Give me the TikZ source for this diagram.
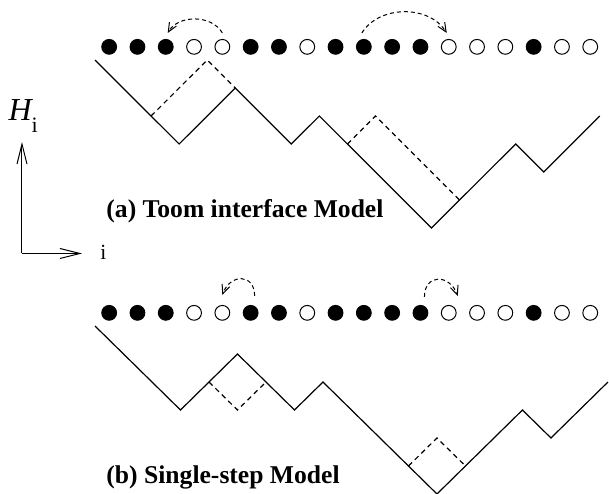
\documentclass[tikz,border=0pt]{standalone}
\usepackage{fontspec}
\setmainfont{Liberation Serif}
\usetikzlibrary{arrows.meta}

\tikzset{
  site/.style={circle, draw, line width=0.5pt, minimum size=7.4pt, inner sep=0pt},
  iface/.style={line width=0.6pt},
  flip/.style={line width=0.6pt, dash pattern=on 2.5pt off 2pt},
  hop/.style={line width=0.5pt, dash pattern=on 2pt off 1.5pt, -{Straight Barb[length=4.5pt, width=4pt]}},
  axisarrow/.style={line width=0.5pt, -{Straight Barb[length=10pt, width=5pt]}},
  caption/.style={anchor=base west, inner sep=0pt, font=\fontsize{12.8}{15}\selectfont\bfseries}
}

\begin{document}
\begin{tikzpicture}[x=14.15pt, y=14pt]
\useasboundingbox (-3.357,2.143) rectangle (18.163,-15.5);

% axes
\coordinate (orig) at (-2.58,-6.91);
\coordinate (htop) at (-2.58,-2.93);
\coordinate (itip) at (-0.46,-6.91);
\draw[axisarrow] (orig) -- (htop);
\draw[axisarrow] (orig) -- (itip);
\node[anchor=base west, inner sep=0pt] (hlab) at (-3.07,-2.17)
  {\fontsize{16}{18}\selectfont\itshape H\raisebox{-6pt}{\fontsize{11}{12}\selectfont\upshape i}};
\node[anchor=base west, inner sep=0pt] (ilab) at (0.18,-7.11) {\fontsize{10.8}{12}\selectfont i};

% (a) Toom interface model
\foreach \c [count=\k from 0] in {black,black,black,white,white,black,black,white,black,black,black,black,white,white,white,black,white,white}
  \node[site, fill=\c] (a\k) at (\k+0.5,0.47) {};
\begin{scope}[xscale=0.991]
  \draw[iface] (0,0) -- (3,-3) -- (5,-1) -- (7,-3) -- (8,-2) -- (12,-6) -- (15,-3) -- (16,-4) -- (18,-2);
  \draw[flip] (2,-2) -- (4,0) -- (5,-1);
  \draw[flip] (9,-3) -- (10,-2) -- (13,-5);
\end{scope}
\draw[hop] ([yshift=3pt]a4.north) to[bend right=60] ([xshift=1pt,yshift=3pt]a2.north);
\draw[hop] ([xshift=-1pt,yshift=3pt]a9.north) to[bend left=58] ([xshift=-1pt,yshift=3pt]a12.north);
\node[caption] (capa) at (0.39,-5.64) {(a) Toom interface Model};

% (b) Single-step model
\begin{scope}[shift={(0,-9.5)}]
  \foreach \c [count=\k from 0] in {black,black,black,white,white,black,black,white,black,black,black,black,white,white,white,black,white,white}
    \node[site, fill=\c] (b\k) at (\k+0.5,0.47) {};
  \begin{scope}[xscale=1.007]
    \draw[iface] (0,0) -- (3,-3) -- (5,-1) -- (7,-3) -- (8,-2) -- (12,-6) -- (15,-3) -- (16,-4) -- (18,-2);
    \draw[flip] (4,-2) -- (5,-3) -- (6,-2);
    \draw[flip] (11,-5) -- (12,-4) -- (13,-5);
  \end{scope}
  \node[caption] (capb) at (0.39,-5.64) {(b) Single-step Model};
\end{scope}
\draw[hop] ([xshift=2pt,yshift=4.5pt]b5.north) to[out=90,in=70,looseness=1.8] ([yshift=5pt]b4.north);
\draw[hop] ([xshift=2pt,yshift=4pt]b11.north) to[out=90,in=110,looseness=1.8] ([xshift=4.5pt,yshift=4.5pt]b12.north);
\end{tikzpicture}
\end{document}
